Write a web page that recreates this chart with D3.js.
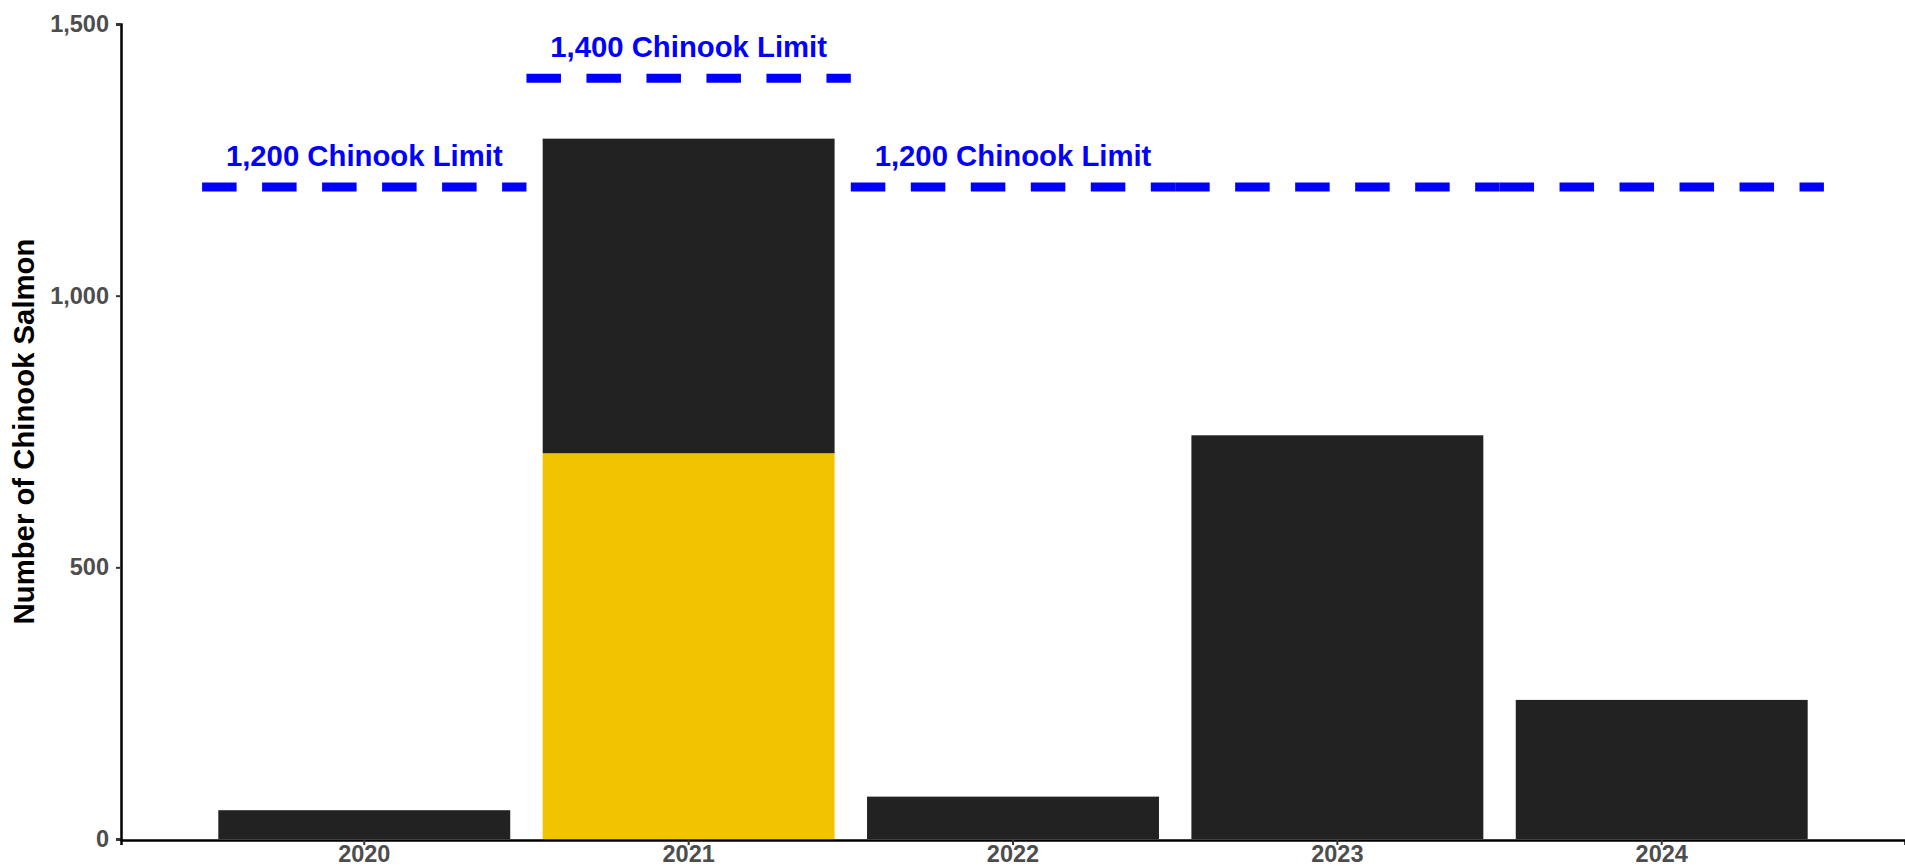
<!DOCTYPE html>
<html>
<head>
<meta charset="utf-8">
<script src="https://cdn.jsdelivr.net/npm/d3@7"></script>
<style>
  html, body { margin: 0; padding: 0; background: #fff; }
  svg { display: block; font-family: "Liberation Sans", Arial, sans-serif; }
</style>
</head>
<body>
<svg id="chart" width="1905" height="867"></svg>
<script>
// ---- data ----
const years = ["2020", "2021", "2022", "2023", "2024"];
const yellowValues = [0, 710, 0, 0, 0];
const darkValues = [53, 579, 78, 743, 256];
const limitValues = [1200, 1400, 1200, 1200, 1200];
const limitLabels = ["1,200 Chinook Limit", "1,400 Chinook Limit", "1,200 Chinook Limit", "", ""];
const yTicks = [0, 500, 1000, 1500];
const yTitle = "Number of Chinook Salmon";
const seriesKeys = ["yellow", "dark"];
const seriesColors = { yellow: "#F2C300", dark: "#222222" };

// ---- layout ----
const W = 1905, H = 867;
const margin = { left: 121, right: 0, top: 24, bottom: 28 };
const svg = d3.select("#chart");

const x = d3.scaleBand()
  .domain(years)
  .range([margin.left, W - margin.right])
  .paddingInner(0.1)
  .paddingOuter(0.3);

const y = d3.scaleLinear()
  .domain([0, 1500])
  .range([839, 24]);

const table = years.map((yr, i) => ({ year: yr, yellow: yellowValues[i], dark: darkValues[i] }));
const stacked = d3.stack().keys(seriesKeys)(table);

// bars
svg.append("g").selectAll("g")
  .data(stacked)
  .join("g")
  .attr("fill", d => seriesColors[d.key])
  .selectAll("rect")
  .data(d => d)
  .join("rect")
  .attr("x", d => x(d.data.year))
  .attr("width", x.bandwidth())
  .attr("y", d => y(d[1]))
  .attr("height", d => Math.max(0, y(d[0]) - y(d[1])));

// limit lines (one segment per year)
const step = x.step();
const limits = years.map((yr, i) => ({ year: yr, value: limitValues[i], label: limitLabels[i] }));
svg.append("g").selectAll("line")
  .data(limits)
  .join("line")
  .attr("x1", d => x(d.year) + x.bandwidth() / 2 - step / 2)
  .attr("x2", d => x(d.year) + x.bandwidth() / 2 + step / 2)
  .attr("y1", d => y(d.value))
  .attr("y2", d => y(d.value))
  .attr("stroke", "#0000FF")
  .attr("stroke-width", 9)
  .attr("stroke-dasharray", "34.5,25.5")
  .attr("stroke-linecap", "butt");

svg.append("g").selectAll("text")
  .data(limits.filter(d => d.label))
  .join("text")
  .attr("x", d => x(d.year) + x.bandwidth() / 2)
  .attr("y", d => y(d.value) - 21)
  .attr("text-anchor", "middle")
  .attr("fill", "#0000FF")
  .attr("font-weight", "bold")
  .attr("font-size", "29.3px")
  .text(d => d.label);

// y axis
const yAxis = svg.append("g")
  .attr("transform", `translate(${margin.left},0)`)
  .call(d3.axisLeft(y).tickValues(yTicks).tickFormat(d3.format(",")).tickSize(5).tickPadding(7));
yAxis.select(".domain").attr("stroke", "#000").attr("stroke-width", 2.5);
yAxis.selectAll(".tick line").attr("stroke", "#333").attr("stroke-width", 2);
yAxis.selectAll(".tick text")
  .attr("fill", "#4D4D4D").attr("font-size", "23.5px").attr("font-weight", "bold")
  .attr("font-family", "Liberation Sans, Arial, sans-serif");

// x axis
const xAxis = svg.append("g")
  .attr("transform", `translate(0,${y(0) + 1})`)
  .call(d3.axisBottom(x).tickSizeOuter(0).tickSize(5).tickPadding(0));
xAxis.select(".domain").attr("stroke", "#000").attr("stroke-width", 2.5);
xAxis.selectAll(".tick line").attr("stroke", "#333").attr("stroke-width", 2);
xAxis.selectAll(".tick text")
  .attr("fill", "#4D4D4D").attr("font-size", "23.5px").attr("font-weight", "bold")
  .attr("font-family", "Liberation Sans, Arial, sans-serif");

// y title
svg.append("text")
  .attr("transform", `translate(34,${(y(0) + y(1500)) / 2}) rotate(-90)`)
  .attr("text-anchor", "middle")
  .attr("font-weight", "bold")
  .attr("font-size", "29.3px")
  .attr("fill", "#000")
  .text(yTitle);
</script>
</body>
</html>
